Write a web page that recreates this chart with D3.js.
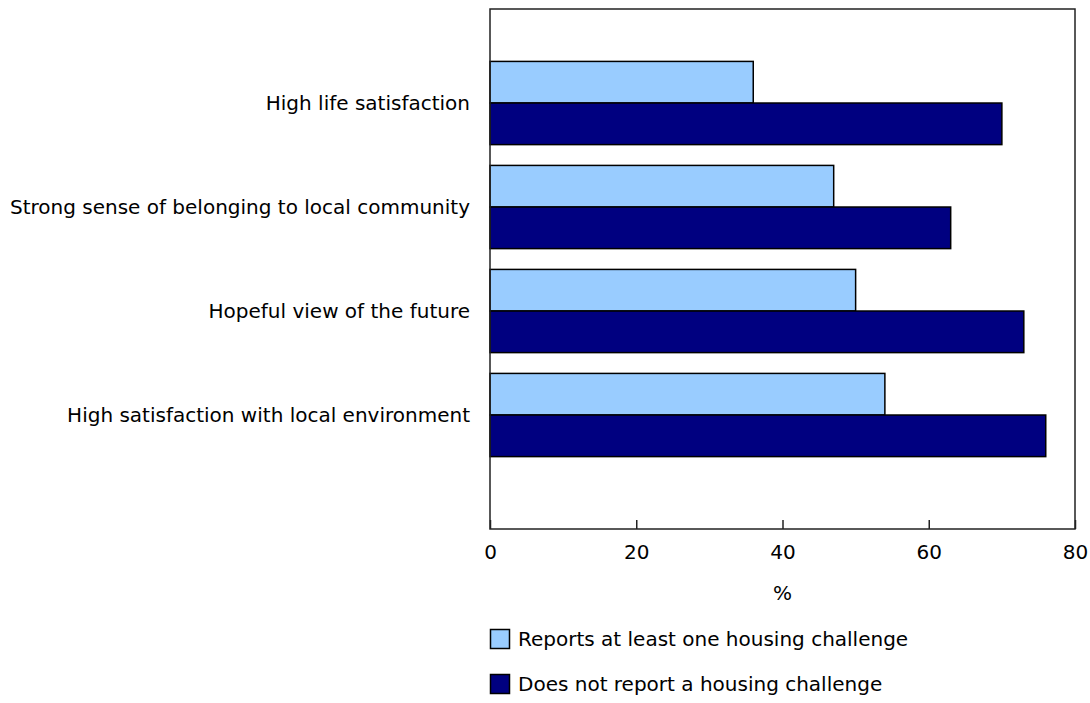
<!DOCTYPE html>
<html>
<head>
<meta charset="utf-8">
<script src="https://cdn.jsdelivr.net/npm/d3@7"></script>
<style>
  body { margin: 0; background: #fff; }
  text { font-family: "DejaVu Sans", Verdana, sans-serif; font-size: 20px; fill: #000; }
</style>
</head>
<body>
<script>
// data
var categories = [
  "High life satisfaction",
  "Strong sense of belonging to local community",
  "Hopeful view of the future",
  "High satisfaction with local environment"
];
var seriesNames = ["Reports at least one housing challenge", "Does not report a housing challenge"];
var withChallenge = [36, 47, 50, 54];
var withoutChallenge = [70, 63, 73, 76];
var xTicks = [0, 20, 40, 60, 80];
var colors = ["#99ccff", "#000080"];

var w = 1090, h = 703;
var plotLeft = 490, plotRight = 1075, plotTop = 9, plotBottom = 529;

var svg = d3.select("body").append("svg")
    .attr("width", w)
    .attr("height", h);

var x = d3.scaleLinear().domain([0, 80]).range([plotLeft, plotRight]);
var y = d3.scaleBand().domain(categories).range([plotTop, plotBottom])
    .paddingInner(0.2).paddingOuter(0.6).align(0.42);
var sub = d3.scaleBand().domain([0, 1]).range([0, y.bandwidth()]);

var rows = categories.map(function(c, i) {
    return { cat: c, vals: [withChallenge[i], withoutChallenge[i]] };
});

var groups = svg.selectAll("g.cat")
    .data(rows)
    .enter().append("g")
    .attr("class", "cat")
    .attr("transform", function(d) { return "translate(0," + y(d.cat) + ")"; });

groups.selectAll("rect")
    .data(function(d) { return d.vals; })
    .enter().append("rect")
    .attr("x", x(0))
    .attr("y", function(d, i) { return sub(i); })
    .attr("width", function(d) { return x(d) - x(0); })
    .attr("height", sub.bandwidth())
    .style("fill", function(d, i) { return colors[i]; })
    .style("stroke", "#000")
    .style("stroke-width", 1.5);

// category labels
groups.append("text")
    .attr("x", plotLeft - 20)
    .attr("y", y.bandwidth() / 2)
    .attr("dy", "0.35em")
    .attr("text-anchor", "end")
    .text(function(d) { return d.cat; });

// frame
svg.append("rect")
    .attr("x", plotLeft).attr("y", plotTop)
    .attr("width", plotRight - plotLeft).attr("height", plotBottom - plotTop)
    .style("fill", "none")
    .style("stroke", "#222")
    .style("stroke-width", 1.5);

// x axis, ticks point up into the plot
var xAxis = d3.axisBottom(x).tickValues(xTicks).tickSizeInner(-9).tickSizeOuter(0);
var ax = svg.append("g")
    .attr("transform", "translate(0," + plotBottom + ")")
    .call(xAxis);
ax.select(".domain").remove();
ax.selectAll(".tick line").style("stroke", "#222").style("stroke-width", 1.5);
ax.selectAll(".tick text")
    .style("font-family", "DejaVu Sans, Verdana, sans-serif")
    .style("font-size", "20px")
    .attr("y", 23)
    .attr("dy", "0.35em");

svg.append("text")
    .attr("x", (plotLeft + plotRight) / 2)
    .attr("y", 593)
    .attr("dy", "0.35em")
    .attr("text-anchor", "middle")
    .text("%");

// legend
var legend = svg.selectAll("g.legend")
    .data(seriesNames)
    .enter().append("g")
    .attr("class", "legend")
    .attr("transform", function(d, i) { return "translate(" + plotLeft + "," + (639 + i * 45) + ")"; });

legend.append("rect")
    .attr("x", 0.5).attr("y", -9.5)
    .attr("width", 19).attr("height", 19)
    .style("fill", function(d, i) { return colors[i]; })
    .style("stroke", "#000")
    .style("stroke-width", 1.5);

legend.append("text")
    .attr("x", 28)
    .attr("y", 0)
    .attr("dy", "0.35em")
    .text(function(d) { return d; });
</script>
</body>
</html>
